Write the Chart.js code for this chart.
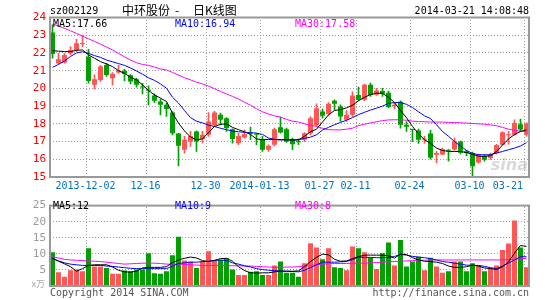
<!DOCTYPE html>
<html><head><meta charset="utf-8">
<script src="https://cdn.jsdelivr.net/npm/chart.js@4.4.0/dist/chart.umd.min.js"></script>
<style>
html,body{margin:0;padding:0;background:#fff;}
#wrap{position:relative;width:545px;height:300px;overflow:hidden;background:#fff;}
canvas{position:absolute;left:0;}
#c1{top:0;} #c2{top:195px;}
</style></head><body>
<div id="wrap"><canvas id="c1" width="545" height="195"></canvas><canvas id="c2" width="545" height="105"></canvas></div>
<script>
const dateLabels = ['2013-12-02','12-16','12-30','2014-01-13','01-27','02-11','02-24','03-10','03-21'];
const dateIndex = [6,16,26,35,45,51,60,70,79];
const priceTicks = [15,16,17,18,19,20,21,22,23,24];
const volTicks = [0,5,10,15,20,25];

const open = [23.16,21.42,21.46,21.98,22.17,22.50,21.79,20.20,20.48,21.32,
20.57,20.89,21.00,20.74,20.52,20.09,19.90,19.60,19.26,19.07,
18.64,17.45,16.54,17.00,17.57,17.14,17.38,17.94,18.51,18.32,
17.70,16.91,17.23,17.51,17.42,17.14,16.54,16.82,17.81,17.70,
17.10,17.00,17.10,17.47,17.94,18.69,18.56,19.30,18.98,18.23,
18.51,19.63,19.36,20.20,19.64,19.85,19.75,19.00,19.25,17.95,
17.68,17.63,17.10,17.45,16.26,16.27,16.52,16.55,17.00,16.45,
16.35,15.82,16.20,16.07,16.35,16.82,17.35,17.38,17.98,17.38];
const high = [23.58,21.98,21.98,22.36,22.77,23.01,22.20,20.76,21.30,21.42,
20.89,21.32,21.08,20.78,20.57,20.29,20.14,19.70,19.39,19.17,
18.69,17.47,17.29,17.57,17.60,17.57,18.64,18.70,18.60,18.35,
17.72,17.47,17.66,17.81,17.47,17.29,16.82,17.76,18.38,17.76,
17.19,17.14,17.51,18.41,19.13,18.83,19.20,19.35,19.07,18.75,
19.80,20.07,20.25,20.30,20.00,20.00,19.85,19.20,19.30,18.13,
17.70,17.70,17.30,17.63,16.45,16.63,16.55,17.20,17.02,16.50,
16.40,16.30,16.25,16.35,16.85,17.55,17.57,18.23,18.27,18.05];
const low = [21.70,21.40,21.42,21.89,22.07,22.36,20.29,19.95,20.39,20.67,
20.20,20.85,20.42,20.25,20.07,19.69,19.07,19.20,18.51,18.42,
17.38,15.63,16.35,16.72,16.44,16.91,17.29,17.85,17.94,17.57,
16.91,16.82,17.19,17.10,16.82,16.44,16.44,16.76,17.47,16.95,
16.54,16.82,17.00,17.38,17.85,18.32,18.51,18.79,18.13,18.13,
18.41,19.30,19.30,19.55,19.60,19.55,18.90,18.85,17.75,17.57,
17.00,16.90,16.90,16.00,15.80,16.25,15.90,16.50,16.30,16.20,
15.00,15.78,15.90,15.98,16.30,16.80,16.85,17.35,17.57,17.30];
const close = [21.94,21.64,21.89,22.17,22.54,22.56,20.42,20.52,21.23,20.76,
20.82,21.00,20.82,20.39,20.20,20.05,19.86,19.30,19.07,18.83,
17.47,16.76,17.10,17.32,17.00,17.38,18.13,18.64,18.23,17.76,
17.14,17.32,17.42,17.44,17.38,16.54,16.76,17.70,17.51,17.00,
16.85,16.96,17.47,18.32,18.88,18.45,19.13,19.13,18.41,18.51,
19.60,19.35,20.20,19.63,19.88,19.70,18.95,19.07,17.95,17.83,
17.65,17.10,17.15,16.08,16.35,16.57,16.48,17.00,16.37,16.35,
15.60,16.26,15.98,16.25,16.80,17.52,17.40,18.04,17.68,18.00];

const ma5 = [22.13,22.10,22.08,22.07,22.15,22.17,21.89,21.70,21.51,21.38,
21.23,21.00,20.85,20.63,20.48,20.20,19.88,19.63,19.45,19.26,
18.60,18.04,17.60,17.25,17.10,17.15,17.50,17.85,17.97,18.00,
17.80,17.67,17.55,17.40,17.15,17.10,17.12,17.12,17.10,17.10,
17.08,17.10,17.30,17.55,17.70,18.10,18.50,18.75,18.80,18.90,
19.05,19.30,19.50,19.65,19.73,19.72,19.50,19.20,18.75,18.35,
17.85,17.45,17.10,16.90,16.63,16.50,16.44,16.44,16.44,16.38,
16.28,16.17,16.16,16.20,16.44,16.80,17.14,17.40,17.57,17.66];
const ma10 = [21.19,21.35,21.55,21.80,22.00,22.07,21.98,21.85,21.75,21.60,
21.50,21.40,21.30,21.15,20.98,20.80,20.60,20.45,20.25,20.01,
19.50,19.17,18.75,18.35,18.15,18.05,17.93,17.85,17.75,17.67,
17.60,17.55,17.52,17.50,17.48,17.40,17.20,17.12,17.10,17.10,
17.10,17.10,17.18,17.25,17.38,17.65,17.80,17.95,18.08,18.20,
18.35,18.52,18.65,18.78,18.88,19.00,19.15,19.20,19.20,19.10,
18.92,18.68,18.45,18.30,17.95,17.57,17.30,17.00,16.75,16.50,
16.33,16.26,16.25,16.26,16.35,16.44,16.54,16.63,16.75,16.94];
const ma30 = [23.63,23.52,23.39,23.25,23.10,22.95,22.80,22.65,22.50,22.33,
22.17,21.97,21.78,21.60,21.45,21.35,21.30,21.20,21.10,21.04,
20.90,20.75,20.60,20.48,20.35,20.25,20.13,19.98,19.83,19.68,
19.55,19.40,19.22,19.05,18.85,18.68,18.55,18.45,18.38,18.25,
18.15,18.10,18.00,17.93,17.85,17.75,17.67,17.66,17.66,17.70,
17.75,17.90,17.98,18.05,18.12,18.18,18.22,18.23,18.23,18.20,
18.15,18.13,18.12,18.10,18.10,18.10,18.08,18.07,18.06,18.04,
18.02,18.00,17.98,17.94,17.89,17.80,17.70,17.63,17.58,17.58];

const volume = [10.5,4.3,2.9,4.9,5.1,4.6,11.7,6.1,6.1,5.6,
3.8,3.8,4.8,4.6,5.1,5.1,10.2,4.0,3.8,4.6,
9.6,15.3,7.9,7.6,5.6,7.6,10.8,7.8,8.1,8.6,
5.1,3.4,3.4,4.4,4.6,3.4,3.4,6.4,7.6,4.1,
4.1,2.9,7.1,13.3,12.0,8.3,11.7,5.8,5.6,4.9,
12.3,11.7,10.5,8.8,5.3,10.2,13.5,6.4,14.3,6.1,
7.6,9.1,4.9,8.8,6.1,4.1,4.6,7.6,7.6,4.6,
7.1,6.4,4.6,5.6,6.4,11.2,13.2,20.4,12.0,5.8];
const vma5 = [8.6,7.7,6.9,6.0,4.6,5.4,6.4,6.6,6.6,6.6,
5.9,4.9,4.4,4.3,4.6,5.6,5.8,5.8,5.8,6.0,
7.3,8.1,8.6,9.0,8.7,7.9,7.6,8.0,8.5,8.6,
7.7,6.0,4.8,4.1,4.0,4.1,4.1,4.4,4.6,4.6,
4.6,4.7,6.0,7.6,8.9,9.9,9.7,8.3,7.7,7.8,
8.5,9.1,9.6,9.6,9.6,9.6,9.4,8.7,9.9,9.8,
8.8,8.1,7.7,7.6,7.4,7.0,6.2,5.8,5.8,6.0,
6.5,6.2,5.6,5.4,5.1,6.0,7.5,10.2,12.6,12.3];
const vma10 = [8.6,7.8,7.2,6.8,6.6,6.4,6.4,6.4,6.4,6.2,
6.1,5.9,5.7,5.5,5.4,5.4,5.4,5.4,5.4,5.4,
6.2,7.0,7.2,7.4,7.4,7.6,7.7,7.9,8.1,7.9,
7.2,6.8,6.3,5.9,5.4,5.1,4.9,4.8,4.7,4.6,
4.5,4.4,4.9,5.7,6.6,7.4,7.4,7.4,7.5,7.6,
8.2,9.0,8.9,8.9,8.8,8.8,8.8,9.2,9.8,9.6,
9.2,9.0,8.8,8.5,8.1,7.6,7.4,7.1,6.8,6.5,
6.4,6.4,6.1,5.7,5.4,6.2,7.1,8.1,9.1,9.1];
const vma30 = [9.1,8.7,8.3,8.1,8.0,7.9,7.8,7.7,7.6,7.4,
7.2,7.0,6.8,6.9,7.0,7.1,7.1,7.1,7.0,6.8,
6.8,6.8,6.7,6.6,6.5,6.4,6.4,6.4,6.4,6.3,
6.3,6.3,6.2,6.2,6.1,6.0,5.9,5.8,5.8,5.9,
5.9,6.0,6.2,6.4,6.6,6.8,6.9,7.0,7.0,7.0,
7.1,7.1,7.1,7.2,7.3,7.4,7.5,7.6,7.7,7.8,
7.9,8.0,8.0,8.1,8.1,8.1,8.1,8.1,8.1,8.1,
8.1,8.1,8.1,8.1,8.1,8.1,8.2,8.3,8.5,8.6];

const RED = '#ff5555', GREEN = '#00a000';
const MONO = '"DejaVu Sans Mono", monospace';
const N = close.length;
const up = close.map((c,i)=> c >= open[i]);
const candleColors = up.map(u => u ? RED : GREEN);

// vertical dotted grid at the left edge of each dated candle's slot (snapped onto a pixel column)
const gridTickVals = dateIndex.map(k => k - 1/3);
// labels centred on those lines; the last one is pulled inside the frame
const labelTickVals = dateIndex.map((k,j) => j === dateIndex.length-1 ? k - 0.5 - 2.6 : k - 0.5);
const XMIN = -0.4167, XMAX = N - 1 + 0.4167;
const GRID = '#a0a0a0';

function xy(arr){ return arr.map((v,i)=>({x:i,y:v})); }

// one dotted vertical line per dated gridline, drawn through the chart's own scales
function gridLineDatasets(yMin, yMax){
  return gridTickVals.map(v => ({
    type:'line', label:'grid', data:[{x:v, y:yMin}, {x:v, y:yMax}],
    borderColor:GRID, borderWidth:1, borderDash:[1,2], pointRadius:0, tension:0,
    order:20, clip:false
  }));
}

const framePlugin = {
  id:'frame',
  afterDatasetsDraw(chart){
    const {ctx, chartArea:a} = chart;
    ctx.save();
    ctx.strokeStyle = '#999';
    ctx.lineWidth = 2;
    ctx.strokeRect(a.left, a.top, a.right - a.left, a.bottom - a.top);
    ctx.restore();
  }
};

const priceText = {
  id:'priceText',
  afterDraw(chart){
    const ctx = chart.ctx;
    ctx.save();
    ctx.textBaseline = 'middle';
    ctx.font = '10px ' + MONO;
    ctx.fillStyle = '#000';
    ctx.textAlign = 'left';
    ctx.fillText('sz002129', 50, 11);
    ctx.textAlign = 'right';
    ctx.fillText('2014-03-21 14:08:48', 529, 11);
    ctx.textAlign = 'left';
    ctx.font = '12px "Noto Sans CJK SC", sans-serif';
    ctx.fillText('中环股份', 122, 10);
    ctx.fillText('-', 175, 10);
    ctx.fillText('日K线图', 193, 10);
    ctx.font = '10px ' + MONO;
    ctx.fillStyle = '#000'; ctx.fillText('MA5:17.66', 53, 24);
    ctx.fillStyle = '#0000ff'; ctx.fillText('MA10:16.94', 175, 24);
    ctx.fillStyle = '#ff00ff'; ctx.fillText('MA30:17.58', 295, 24);
    ctx.font = 'italic bold 16px "DejaVu Sans", sans-serif';
    ctx.fillStyle = 'rgba(170,170,170,0.45)';
    ctx.textAlign = 'right';
    ctx.fillText('sina', 528, 166);
    ctx.restore();
  }
};

const volText = {
  id:'volText',
  afterDraw(chart){
    const ctx = chart.ctx;
    ctx.save();
    ctx.textBaseline = 'middle';
    ctx.font = '10px ' + MONO;
    ctx.textAlign = 'left';
    ctx.fillStyle = '#000'; ctx.fillText('MA5:12', 53, 11);
    ctx.fillStyle = '#0000ff'; ctx.fillText('MA10:9', 175, 11);
    ctx.fillStyle = '#ff00ff'; ctx.fillText('MA30:8', 295, 11);
    ctx.fillStyle = '#555';
    ctx.fillText('Copyright 2014 SINA.COM', 50, 98);
    ctx.textAlign = 'right';
    ctx.fillText('http://finance.sina.com.cn', 529, 98);
    ctx.font = '9px "Noto Sans CJK SC", sans-serif';
    ctx.fillStyle = '#aaa';
    ctx.fillText('x万', 45, 89);
    ctx.restore();
  }
};

new Chart(document.getElementById('c1'), {
  type:'bar',
  data:{ datasets:[
    { type:'line', label:'MA5', data:xy(ma5), borderColor:'#000', borderWidth:1, pointRadius:0, tension:0, order:1 },
    { type:'line', label:'MA10', data:xy(ma10), borderColor:'#0000ff', borderWidth:1, pointRadius:0, tension:0, order:2 },
    { type:'line', label:'MA30', data:xy(ma30), borderColor:'#ff00ff', borderWidth:1, pointRadius:0, tension:0, order:3 },
    { label:'body', data: open.map((o,i)=>({x:i, y:[o, close[i]]})), backgroundColor:candleColors, borderWidth:0,
      grouped:false, categoryPercentage:1, barPercentage:0.83, minBarLength:1, order:4 },
    { label:'wick', data: low.map((l,i)=>({x:i, y:[l, high[i]]})), backgroundColor:candleColors, borderWidth:0,
      grouped:false, barThickness:1, order:5 },
    ...gridLineDatasets(priceTicks[0], priceTicks[priceTicks.length-1])
  ]},
  options:{
    responsive:false, animation:false, devicePixelRatio:1,
    layout:{ padding:{ top:17.5, right:16, left:0, bottom:0 } },
    plugins:{ legend:{display:false}, tooltip:{enabled:false} },
    scales:{
      x: {
        type:'linear', min:XMIN, max:XMAX, bounds:'data', offset:false,
        afterBuildTicks: s => { s.ticks = labelTickVals.map(v => ({value:v})); },
        afterFit: s => { s.height = 18; },
        grid:{ display:false, drawTicks:false }, border:{ display:false },
        ticks:{ autoSkip:false, maxRotation:0, padding:3, color:'#0070c8',
          font:{ family:MONO, size:10 }, callback: (v, i) => dateLabels[i] }
      },
      y: { type:'linear', min:15, max:24, afterFit: s => { s.width = 50; },
        afterBuildTicks: s => { s.ticks = priceTicks.map(v=>({value:v})); },
        grid:{ color:GRID, drawTicks:false }, border:{ display:false, dash:[1,2] },
        ticks:{ autoSkip:false, color:'#ff0000', padding:4, font:{ family:MONO, size:11 } } }
    }
  },
  plugins:[framePlugin, priceText]
});

new Chart(document.getElementById('c2'), {
  type:'bar',
  data:{ datasets:[
    { type:'line', label:'MA5', data:xy(vma5), borderColor:'#000', borderWidth:1, pointRadius:0, tension:0, order:1 },
    { type:'line', label:'MA10', data:xy(vma10), borderColor:'#0000ff', borderWidth:1, pointRadius:0, tension:0, order:2 },
    { type:'line', label:'MA30', data:xy(vma30), borderColor:'#ff00ff', borderWidth:1, pointRadius:0, tension:0, order:3 },
    { label:'vol', data: xy(volume), backgroundColor:candleColors, borderWidth:0,
      grouped:false, categoryPercentage:1, barPercentage:0.83, order:4 },
    ...gridLineDatasets(volTicks[0], volTicks[volTicks.length-1])
  ]},
  options:{
    responsive:false, animation:false, devicePixelRatio:1,
    layout:{ padding:{ top:6, right:16, left:0, bottom:0 } },
    plugins:{ legend:{display:false}, tooltip:{enabled:false} },
    scales:{
      x: {
        type:'linear', min:XMIN, max:XMAX, bounds:'data', offset:false,
        afterFit: s => { s.height = 14; },
        grid:{ display:false, drawTicks:false }, border:{ display:false },
        ticks:{ display:false }
      },
      y: { type:'linear', min:0, max:25, afterFit: s => { s.width = 50; },
        afterBuildTicks: s => { s.ticks = volTicks.map(v=>({value:v})); },
        grid:{ color:GRID, drawTicks:false }, border:{ display:false, dash:[1,2] },
        ticks:{ autoSkip:false, color:'#999', padding:4, font:{ family:MONO, size:11 }, callback: v => v === 0 ? '' : String(v) } }
    }
  },
  plugins:[framePlugin, volText]
});
</script>
</body></html>
